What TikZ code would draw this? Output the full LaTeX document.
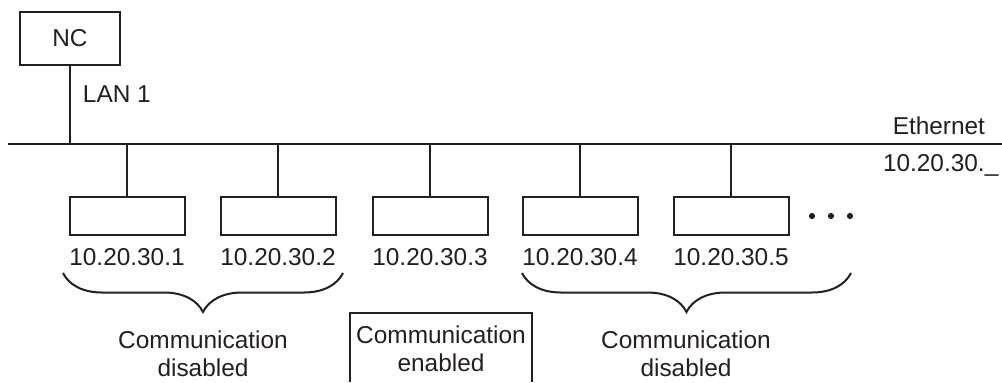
\documentclass[tikz,border=0pt]{standalone}
\usepackage{fontspec}
\setmainfont{Liberation Sans}
\usetikzlibrary{positioning}
\usetikzlibrary{decorations.pathreplacing}
\definecolor{ink}{HTML}{231F20}
\tikzset{>=stealth}
\tikzset{devbox/.style={draw, minimum width=57.5pt, minimum height=19pt, inner sep=0pt},
  lbl/.style={inner sep=0pt, font=\fontsize{12.2}{14}\selectfont},
  curly/.style={decorate, decoration={brace, amplitude=19.5pt}}}

\begin{document}
\begin{tikzpicture}[x=0.5pt, y=-0.5pt, line width=1pt, draw=ink, text=ink]
\useasboundingbox (0,0) rectangle (1002,382);
% controller and bus
\node[draw, lbl, minimum width=50pt, minimum height=26.5pt] (nc) at (70,38) {NC};
\coordinate (ethL) at (8,144);
\coordinate (ethR) at (1002,144);
\draw (ethL) -- (ethR);
\draw (nc.south) -- (nc.south |- ethL);
\node[lbl, anchor=west] (lan) at (82,94) {LAN 1};
\node[lbl, anchor=east] (eth) at (986,126) {Ethernet};
\node[lbl, anchor=west] (net) at (882,165) {10.20.30.\_};
% devices
\node[devbox] (d1) at (127,216) {};
\node[devbox] (d2) at (278,216) {};
\node[devbox] (d3) at (430,216) {};
\node[devbox] (d4) at (580,216) {};
\node[devbox] (d5) at (731,216) {};
\foreach \i in {1,...,5}{
  \draw (d\i.north) -- (d\i.north |- ethL);
  \node[lbl, below=5.5pt of d\i] (ip\i) {10.20.30.\i};
}
\filldraw[ink] (812,216) circle (1pt);
\filldraw[ink] (831,216) circle (1pt);
\filldraw[ink] (850,216) circle (1pt);
% groups
\coordinate (b1a) at (343,273);
\coordinate (b1b) at (63,273);
\coordinate (b2a) at (851,273);
\coordinate (b2b) at (522,273);
\draw[curly] (b1a) -- (b1b);
\draw[curly] (b2a) -- (b2b);
\node[lbl, align=center] (dis1) at (203,354) {Communication\\disabled};
\node[lbl, align=center] (dis2) at (686,354) {Communication\\disabled};
\node[lbl, align=center] (en) at (441,349) {Communication\\enabled};
\draw (350,382) |- (532,313) -- (532,382);
\end{tikzpicture}
\end{document}
